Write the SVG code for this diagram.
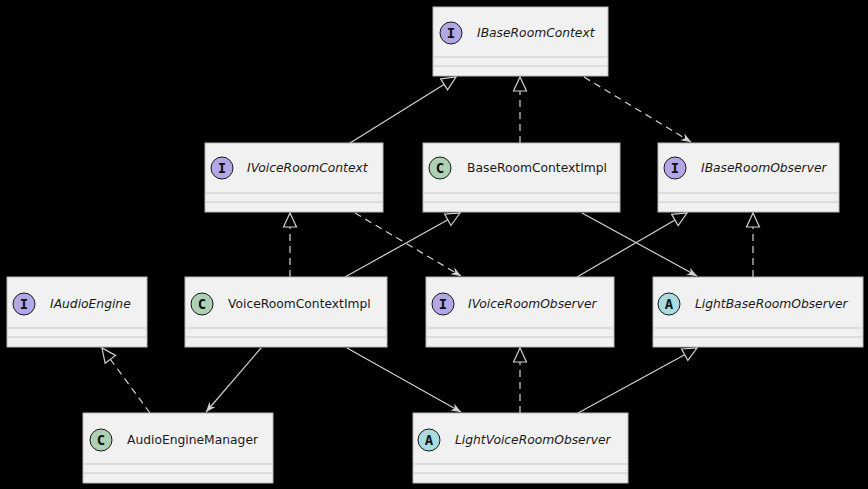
<svg xmlns="http://www.w3.org/2000/svg" width="868" height="489" viewBox="0 0 868 489">
<style>
.box{fill:#F1F1F1;stroke:#b8b8b8;stroke-width:1}
.div{stroke:#c8c8c8;stroke-width:1}
.name{font-family:"DejaVu Sans",Verdana,sans-serif;font-size:12.3px;fill:#1a1a1a}
.it{font-style:italic}
.ci{stroke:#181818;stroke-width:1}
.lt{font-family:"DejaVu Sans Mono",monospace;font-size:14px;font-weight:bold;fill:#111;text-anchor:middle}
.I{fill:#B4A7E5}.C{fill:#ADD1B2}.A{fill:#A9DCDF}
.ln{stroke:#d2d2d2;stroke-width:1.2;fill:none}
.dash{stroke-dasharray:7,5}
</style>
<defs>
<marker id="tri" viewBox="0 0 16 16" refX="15" refY="8" markerWidth="16" markerHeight="16" orient="auto" markerUnits="userSpaceOnUse">
<path d="M1,1.5 L15,8 L1,14.5 Z" fill="#000" stroke="#d2d2d2" stroke-width="1.2"/>
</marker>
<marker id="arr" viewBox="0 0 12 12" refX="11" refY="6" markerWidth="12" markerHeight="12" orient="auto" markerUnits="userSpaceOnUse">
<path d="M1,2 L11,6 L1,10 L4,6 Z" fill="#d2d2d2"/>
</marker>
</defs>
<rect x="0" y="0" width="868" height="489" fill="#000"/>

<g id="connectors">
<path class="ln" d="M350,143 L456,77" marker-end="url(#tri)"/>
<path class="ln dash" d="M520,143 L520,77" marker-end="url(#tri)"/>
<path class="ln dash" d="M584,77 L691,142" marker-end="url(#arr)"/>
<path class="ln dash" d="M290,277 L290,213" marker-end="url(#tri)"/>
<path class="ln" d="M345,277 L460,213" marker-end="url(#tri)"/>
<path class="ln dash" d="M355,213 L461,276" marker-end="url(#arr)"/>
<path class="ln" d="M577,277 L687,213" marker-end="url(#tri)"/>
<path class="ln" d="M582,213 L697,276" marker-end="url(#arr)"/>
<path class="ln dash" d="M753,277 L753,213" marker-end="url(#tri)"/>
<path class="ln dash" d="M150,413 L102,348" marker-end="url(#tri)"/>
<path class="ln" d="M261,348 L206,412" marker-end="url(#arr)"/>
<path class="ln" d="M347,348 L461,412" marker-end="url(#arr)"/>
<path class="ln dash" d="M520,413 L520,348" marker-end="url(#tri)"/>
<path class="ln" d="M578,413 L697,348" marker-end="url(#tri)"/>
</g>

<g id="IBaseRoomContext">
<rect class="box" x="433" y="7" width="175" height="69"/>
<line class="div" x1="433" y1="57" x2="608" y2="57"/><line class="div" x1="433" y1="66" x2="608" y2="66"/>
<circle class="ci I" cx="451" cy="33" r="11"/><text class="lt" x="451" y="38">I</text>
<text class="name it" x="477" y="37">IBaseRoomContext</text>
</g>

<g id="IVoiceRoomContext">
<rect class="box" x="205" y="143" width="178" height="69"/>
<line class="div" x1="205" y1="193" x2="383" y2="193"/><line class="div" x1="205" y1="202" x2="383" y2="202"/>
<circle class="ci I" cx="222" cy="168" r="11"/><text class="lt" x="222" y="173">I</text>
<text class="name it" x="247" y="172">IVoiceRoomContext</text>
</g>

<g id="BaseRoomContextImpl">
<rect class="box" x="423" y="143" width="197" height="69"/>
<line class="div" x1="423" y1="193" x2="620" y2="193"/><line class="div" x1="423" y1="202" x2="620" y2="202"/>
<circle class="ci C" cx="440" cy="168" r="11"/><text class="lt" x="440" y="173">C</text>
<text class="name" x="467" y="172">BaseRoomContextImpl</text>
</g>

<g id="IBaseRoomObserver">
<rect class="box" x="658" y="143" width="181" height="69"/>
<line class="div" x1="658" y1="193" x2="839" y2="193"/><line class="div" x1="658" y1="202" x2="839" y2="202"/>
<circle class="ci I" cx="675" cy="168" r="11"/><text class="lt" x="675" y="173">I</text>
<text class="name it" x="701" y="172">IBaseRoomObserver</text>
</g>

<g id="IAudioEngine">
<rect class="box" x="7" y="277" width="140" height="70"/>
<line class="div" x1="7" y1="328" x2="147" y2="328"/><line class="div" x1="7" y1="337" x2="147" y2="337"/>
<circle class="ci I" cx="24" cy="304" r="11"/><text class="lt" x="24" y="309">I</text>
<text class="name it" x="50" y="308">IAudioEngine</text>
</g>

<g id="VoiceRoomContextImpl">
<rect class="box" x="185" y="277" width="202" height="70"/>
<line class="div" x1="185" y1="328" x2="387" y2="328"/><line class="div" x1="185" y1="337" x2="387" y2="337"/>
<circle class="ci C" cx="202" cy="304" r="11"/><text class="lt" x="202" y="309">C</text>
<text class="name" x="228" y="308">VoiceRoomContextImpl</text>
</g>

<g id="IVoiceRoomObserver">
<rect class="box" x="426" y="277" width="188" height="70"/>
<line class="div" x1="426" y1="328" x2="614" y2="328"/><line class="div" x1="426" y1="337" x2="614" y2="337"/>
<circle class="ci I" cx="443" cy="304" r="11"/><text class="lt" x="443" y="309">I</text>
<text class="name it" x="468" y="308">IVoiceRoomObserver</text>
</g>

<g id="LightBaseRoomObserver">
<rect class="box" x="653" y="277" width="210" height="70"/>
<line class="div" x1="653" y1="328" x2="863" y2="328"/><line class="div" x1="653" y1="337" x2="863" y2="337"/>
<circle class="ci A" cx="669" cy="304" r="11"/><text class="lt" x="669" y="309">A</text>
<text class="name it" x="695" y="308">LightBaseRoomObserver</text>
</g>

<g id="AudioEngineManager">
<rect class="box" x="83" y="413" width="190" height="70"/>
<line class="div" x1="83" y1="464" x2="273" y2="464"/><line class="div" x1="83" y1="473" x2="273" y2="473"/>
<circle class="ci C" cx="101" cy="440" r="11"/><text class="lt" x="101" y="445">C</text>
<text class="name" x="127" y="444">AudioEngineManager</text>
</g>

<g id="LightVoiceRoomObserver">
<rect class="box" x="413" y="413" width="215" height="70"/>
<line class="div" x1="413" y1="464" x2="628" y2="464"/><line class="div" x1="413" y1="473" x2="628" y2="473"/>
<circle class="ci A" cx="429" cy="440" r="11"/><text class="lt" x="429" y="445">A</text>
<text class="name it" x="455" y="444">LightVoiceRoomObserver</text>
</g>
</svg>
